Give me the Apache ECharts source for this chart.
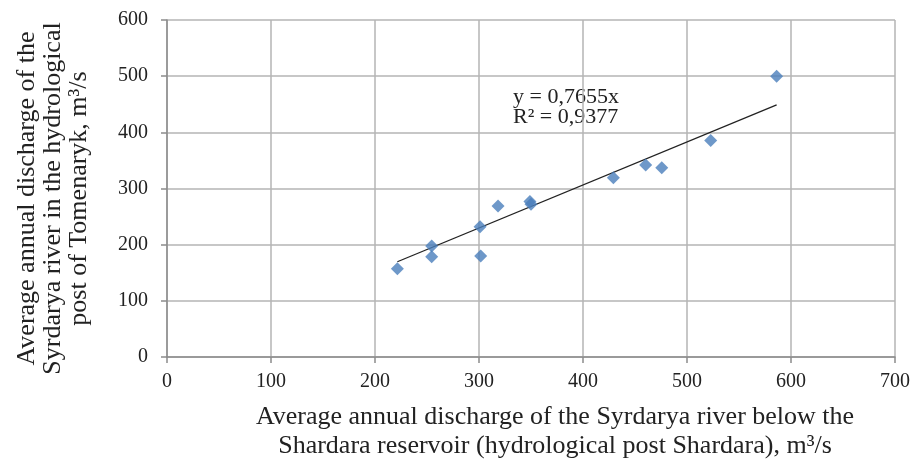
<!DOCTYPE html>
<html>
<head>
<meta charset="utf-8">
<script src="https://cdn.jsdelivr.net/npm/echarts@6/dist/echarts.min.js"></script>
<style>html,body{margin:0;padding:0;background:#fff}#c{width:914px;height:466px}</style>
</head>
<body>
<div id="c"></div>
<script>
const shardara = [221.5, 254.5, 254.5, 301, 301.6, 318.3, 349, 350, 429.2, 460.3, 475.7, 522.8, 586.2];
const tomenaryk = [157, 197.5, 178.5, 232, 180, 269, 277, 272, 319, 342, 337, 385.5, 500];
const slope = 0.7655;
const r2Text = 'R² = 0,9377';
const eqText = 'y = 0,7655x';
const xTicks = [0, 100, 200, 300, 400, 500, 600, 700];
const yTicks = [0, 100, 200, 300, 400, 500, 600];
const xName = 'Average annual discharge of the Syrdarya river below the\nShardara reservoir (hydrological post Shardara), m³/s';
const yName = 'Average annual discharge of the\nSyrdarya river in the hydrological\npost of Tomenaryk, m³/s';

const pts = shardara.map((x, i) => [x, tomenaryk[i]]);
const xmin = Math.min(...shardara), xmax = Math.max(...shardara);
const trend = [[xmin, slope * xmin], [xmax, slope * xmax]];

const font = 'Liberation Serif, Times New Roman, serif';
const chart = echarts.init(document.getElementById('c'), null, {renderer: 'canvas'});
chart.setOption({
  animation: false,
  backgroundColor: '#fff',
  grid: {left: 167, right: 19, top: 20, bottom: 109, containLabel: false, outerBoundsMode: 'none'},
  xAxis: {
    type: 'value', min: xTicks[0], max: xTicks[xTicks.length - 1], interval: 100,
    axisLine: {show: true, lineStyle: {color: '#8c8c8c', width: 1.5}},
    axisTick: {show: true, length: 6, lineStyle: {color: '#8c8c8c', width: 1.5}},
    axisLabel: {color: '#222', fontFamily: font, fontSize: 20, margin: 15},
    splitLine: {show: true, lineStyle: {color: '#b4b4b4', width: 1.5}},
    name: xName, nameLocation: 'middle', nameGap: 46,
    nameTextStyle: {color: '#222', fontFamily: font, fontSize: 26, lineHeight: 29, padding: [0, 0, 0, 48]}
  },
  yAxis: {
    type: 'value', min: yTicks[0], max: yTicks[yTicks.length - 1], interval: 100,
    axisLine: {show: true, lineStyle: {color: '#8c8c8c', width: 1.5}},
    axisTick: {show: true, length: 6, lineStyle: {color: '#8c8c8c', width: 1.5}},
    axisLabel: {color: '#222', fontFamily: font, fontSize: 20, margin: 19},
    splitLine: {show: true, lineStyle: {color: '#b4b4b4', width: 1.5}},
    name: yName, nameLocation: 'middle', nameGap: 75,
    nameTextStyle: {color: '#222', fontFamily: font, fontSize: 26, lineHeight: 26, padding: [0, 20, 0, 0]}
  },
  series: [
    {
      type: 'line', data: trend, symbol: 'none', silent: true,
      lineStyle: {color: '#222', width: 1.3}, z: 2
    },
    {
      type: 'scatter', data: pts, symbol: 'diamond', symbolSize: 13,
      itemStyle: {color: '#4a7ebb'}, z: 3
    }
  ],
  graphic: [
    {type: 'text', left: 513, top: 86, style: {text: eqText + '\n' + r2Text, font: '22px ' + font, fill: '#222', lineHeight: 20}}
  ]
});
</script>
</body>
</html>
